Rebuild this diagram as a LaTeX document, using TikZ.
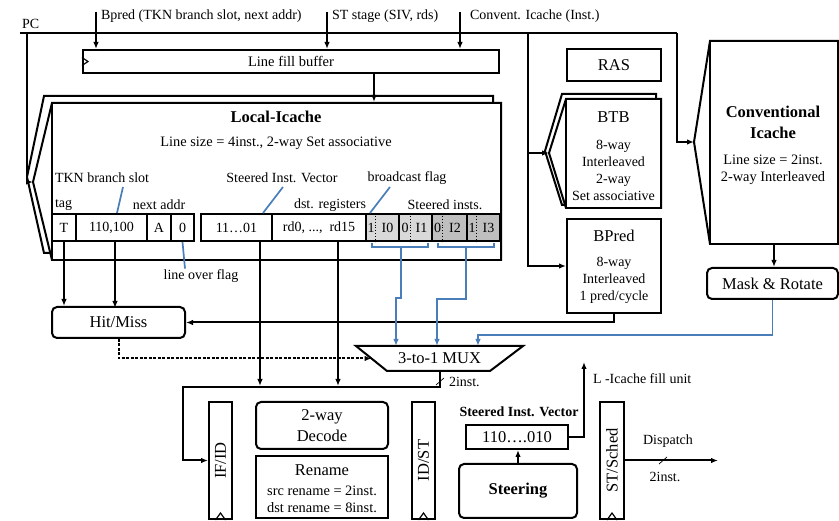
\documentclass[tikz,border=0pt]{standalone}
\usepackage{fontspec}
\setmainfont{Liberation Serif}[BoldFont={Liberation Serif Bold},ItalicFont={Liberation Serif Italic}]
\usetikzlibrary{arrows.meta,calc}
\definecolor{annblue}{RGB}{74,126,187}
\definecolor{lgray}{RGB}{217,217,217}
\definecolor{dgray}{RGB}{191,191,191}
\newcommand{\smf}{\fontsize{14}{17}\selectfont}
\newcommand{\lgf}{\fontsize{16.5}{21}\selectfont}
\begin{document}
\begin{tikzpicture}[x=1pt,y=-1pt,
  line width=2pt,
  box/.style={draw, fill=white, inner sep=0, line width=2pt},
  rbox/.style={box, rounded corners=5pt},
  txt/.style={inner sep=0, font=\smf},
  big/.style={inner sep=0, font=\lgf},
  cell/.style={draw, inner sep=0, minimum height=27, font=\smf},
  arr/.style={-{Latex[length=7,width=5.5]}},
  annline/.style={draw=annblue, line width=1.7pt},
  clk/.style={line width=1.2pt},
  slash/.style={line width=0.7pt},
]
\useasboundingbox (0,0) rectangle (839,521);

% ---------- top labels and PC ----------
\node[txt, anchor=west] (pclab) at (21,24) {PC};
\node[txt, anchor=west] (lb1) at (100,16) {Bpred (TKN branch slot, next addr)};
\node[txt, anchor=west] (lb2) at (331,16) {ST stage (SIV, rds)};
\node[txt, anchor=west] (lb3) at (469,16) {Convent. Icache (Inst.)};
\coordinate (in1) at (96,12);
\coordinate (in2) at (327,12);
\coordinate (in3) at (460,12);

% ---------- line fill buffer ----------
\node[box, minimum width=416, minimum height=23, font=\fontsize{14.5}{17}\selectfont] (lfb) at (291,61.5) {Line fill buffer};
\draw[clk] ([yshift=4]lfb.west) -- ([xshift=6]lfb.west) -- ([yshift=-4]lfb.west);
\draw[arr] (in1) -- (in1 |- lfb.north);
\draw[arr] (in2) -- (in2 |- lfb.north);
\draw[arr] (in3) -- (in3 |- lfb.north);

% ---------- Local-Icache (stacked) ----------
\coordinate (lapexA) at (27,177);
\coordinate (lapexB) at (33,182);
\draw[fill=white] (lapexA) -- (44,96) -- (493,96) -- (493,253) -- (44,253) -- cycle;
\draw[fill=white] (lapexB) -- (52,103) -- (501,103) -- (501,260) -- (52,260) -- cycle;
\node[box, minimum width=449, minimum height=157] (lic) at (276.5,181.5) {};
\coordinate (lfbout) at (374,73);
\draw[arr] (lfbout) -- (lfbout |- lic.north);

\node[inner sep=0, font=\lgf\bfseries] (lict) at (276,117) {Local-Icache};
\node[txt, font=\fontsize{14.4}{17}\selectfont] (licsz) at (276,143) {Line size = 4inst., 2-way Set associative};
\node[txt, anchor=west] (tkn) at (54,178) {TKN branch slot};
\node[txt] (sivl) at (282,178) {Steered Inst. Vector};
\node[txt] (bfl) at (407,178) {broadcast flag};
\node[txt, anchor=west] (tagl) at (54,205) {tag};
\node[txt] (nal) at (159,205) {next addr};
\node[txt] (dstl) at (330,205) {dst. registers};
\node[txt] (sil) at (445,205) {Steered insts.};

% fields
\node[cell, minimum width=24] (cT) at (64,227.5) {T};
\node[cell, minimum width=71] (c110) at (111.5,227.5) {110,100};
\node[cell, minimum width=24] (cA) at (159,227.5) {A};
\node[cell, minimum width=23] (c0) at (182.5,227.5) {0};
\node[cell, minimum width=71] (c1101) at (236.5,227.5) {11…01};
\node[cell, minimum width=94] (crd) at (319,227.5) {rd0, ...,\ \ rd15};
\node[cell, fill=lgray, minimum width=33] (p1) at (382.5,227.5) {};
\node[cell, fill=lgray, minimum width=33] (p2) at (415.5,227.5) {};
\node[cell, fill=dgray, minimum width=35] (p3) at (449.5,227.5) {};
\node[cell, fill=dgray, minimum width=33] (p4) at (483.5,227.5) {};
\draw[dotted, line width=0.9pt] ([xshift=10]p1.north west) -- ([xshift=10]p1.south west);
\draw[dotted, line width=0.9pt] ([xshift=12]p2.north west) -- ([xshift=12]p2.south west);
\draw[dotted, line width=0.9pt] ([xshift=11]p3.north west) -- ([xshift=11]p3.south west);
\draw[dotted, line width=0.9pt] ([xshift=10]p4.north west) -- ([xshift=10]p4.south west);
\node[txt] (f1) at (371,227.5) {1};
\node[txt] (i0) at (387.5,227.5) {I0};
\node[txt] (f2) at (405,227.5) {0};
\node[txt] (i1) at (421.5,227.5) {I1};
\node[txt] (f3) at (437.5,227.5) {0};
\node[txt] (i2) at (455,227.5) {I2};
\node[txt] (f4) at (472,227.5) {1};
\node[txt] (i3) at (488.5,227.5) {I3};

% blue annotations
\coordinate (tknend) at (123,187);
\coordinate (sivend) at (283,187);
\coordinate (bflend) at (390,187);
\draw[annline] (tknend) -- ([xshift=5.5]c110.north);
\draw[annline] (sivend) -- ([xshift=26.5]c1101.north);
\draw[annline] (bflend) -- ([xshift=-12.5]p1.north);
\node[txt] (lof) at (201,276) {line over flag};
\draw[annline] (c0.south) -- ([xshift=-16]lof.north);

\draw[annline] (372,243) -- (372,247) -- (428,247) -- (428,243);
\draw[annline] (438,243) -- (438,247) -- (494,247) -- (494,243);

% ---------- right side ----------
\node[box, minimum width=94, minimum height=32, font=\lgf] (ras) at (614,65) {RAS};

\coordinate (btbapexA) at (545,151);
\coordinate (btbapex) at (549,153);
\draw[fill=white] (btbapexA) -- (562,94) -- (656,94) -- (656,205) -- (562,205) -- cycle;
\draw[fill=white] (btbapex) -- (566,99) -- (661,99) -- (661,208) -- (566,208) -- cycle;
\node[box, minimum width=95, minimum height=109] (btb) at (613.5,153.5) {};
\node[big] (btbt) at (613.5,117) {BTB};
\node[txt, align=center] (btbs) at (613.5,170) {8-way\\Interleaved\\2-way\\Set associative};

\node[box, minimum width=94, minimum height=94] (bpred) at (614,266) {};
\node[big] (bpredt) at (614,236) {BPred};
\node[txt, align=center] (bpreds) at (614,280.5) {8-way\\Interleaved\\1 pred/cycle};

\coordinate (capex) at (694,142);
\draw[fill=white] (capex) -- (710,41) -- (838,41) -- (838,244) -- (710,244) -- cycle;
\node[box, minimum width=128, minimum height=203] (conv) at (774,142.5) {};
\node[inner sep=0, font=\lgf\bfseries, align=center] (convt) at (773,122) {Conventional\\Icache};
\node[txt, align=center, font=\fontsize{14.4}{17}\selectfont] (convs) at (773,170) {Line size = 2inst.\\2-way Interleaved};

\node[rbox, minimum width=131, minimum height=31, font=\lgf] (mask) at (772.5,283.5) {Mask \& Rotate};
\draw[arr] (conv.south) -- (conv.south |- mask.north);

% ---------- PC wiring ----------
\coordinate (pcw) at (20,33);
\coordinate (pcj) at (27,33);
\coordinate (pcm) at (528,33);
\coordinate (pce) at (677,33);
\draw (pcw) -- (pce);
\draw[arr] (pce) |- (capex);
\draw[arr] (pcj) |- (lapexB);
\draw[arr] (pcm) |- (bpred.west);
\draw[arr] (pcm |- btbapex) -- (btbapex);

% ---------- Hit/Miss and MUX ----------
\node[rbox, minimum width=133, minimum height=31, font=\lgf] (hit) at (118.5,322.5) {Hit/Miss};
\node[minimum width=165, minimum height=23, inner sep=0] (mux) at (439.5,358.5) {};
\draw[fill=white] (mux.north west) -- (mux.north east) -- ([xshift=-33]mux.south east) -- ([xshift=31]mux.south west) -- cycle;
\node[inner sep=0, font=\lgf] (muxt) at (mux.center) {3-to-1 MUX};

\draw[arr] (cT.south) -- (cT.south |- hit.north);
\draw[arr] ([xshift=3.5]c110.south) -- ++(0,66);
\draw[arr] (bpred.south) |- (hit.east);
\draw[arr, dash pattern=on 3pt off 1.5pt] (hit.south) |- ([xshift=15.5]mux.west);

\draw[annline, arr] (401,247) -- (401,298) -| ([xshift=40]mux.north west);
\draw[annline, arr] (466,247) -- (466,299) -| ([xshift=81]mux.north west);
\draw[annline, arr] (mask.south) -- ++(0,35) -| ([xshift=122]mux.north west);

\coordinate (muxturn) at (183,387);
\draw[arr] ([xshift=23.5]c1101.south) -- ++(0,144);
\draw[arr] ([xshift=19]crd.south) -- ++(0,144);

% ---------- pipeline ----------
\node[box, minimum width=23, minimum height=117] (ifid) at (220.5,460.5) {};
\node[rotate=90, font=\lgf, inner sep=0] (ifidt) at (ifid.center) {IF/ID};
\draw[clk] ([xshift=-5]ifid.south) -- ([yshift=7]ifid.south) -- ([xshift=5]ifid.south);

\draw[arr] (mux.south) |- (muxturn) |- (ifid.west);
\draw[slash] (436,385) -- (444,378);
\node[txt, anchor=west] (mux2i) at (448,382) {2inst.};

\node[rbox, minimum width=132, minimum height=47, font=\lgf, align=center] (dec) at (322,425.5) {2-way\\Decode};
\node[box, minimum width=132, minimum height=62] (ren) at (322,487) {};
\node[big] (rent) at (322,470) {Rename};
\node[txt, align=center, font=\fontsize{14.4}{17}\selectfont] (rens) at (322,499) {src rename = 2inst.\\dst rename = 8inst.};

\node[box, minimum width=23, minimum height=117] (idst) at (423.5,460.5) {};
\node[rotate=90, font=\lgf, inner sep=0] (idstt) at (idst.center) {ID/ST};
\draw[clk] ([xshift=-5]idst.south) -- ([yshift=7]idst.south) -- ([xshift=5]idst.south);

\node[inner sep=0, font=\smf\bfseries] (sivb) at (519,412) {Steered Inst. Vector};
\node[box, minimum width=102, minimum height=24, font=\lgf] (sivbox) at (517,437) {110….010};
\node[rbox, minimum width=118, minimum height=54, font=\lgf\bfseries] (steer) at (518,491) {Steering};
\draw[arr] (steer.north) -- (steer.north |- sivbox.south);
\coordinate (lfill) at (584,362);
\draw[arr] (sivbox.east) -| (lfill);
\node[txt, anchor=west] (lfillt) at (592,379) {L -Icache fill unit};

\node[box, minimum width=24, minimum height=117] (stsch) at (612,460.5) {};
\node[rotate=90, font=\lgf, inner sep=0] (stscht) at (stsch.center) {ST/Sched};
\draw[clk] ([xshift=-5]stsch.south) -- ([yshift=7]stsch.south) -- ([xshift=5]stsch.south);
\coordinate (disp) at (718,460.5);
\draw[arr] (stsch.east) -- (disp);
\draw[slash] (659,464) -- (667,457);
\node[txt] (dispt) at (668,441) {Dispatch};
\node[txt] (disp2) at (665,477) {2inst.};
\end{tikzpicture}
\end{document}
